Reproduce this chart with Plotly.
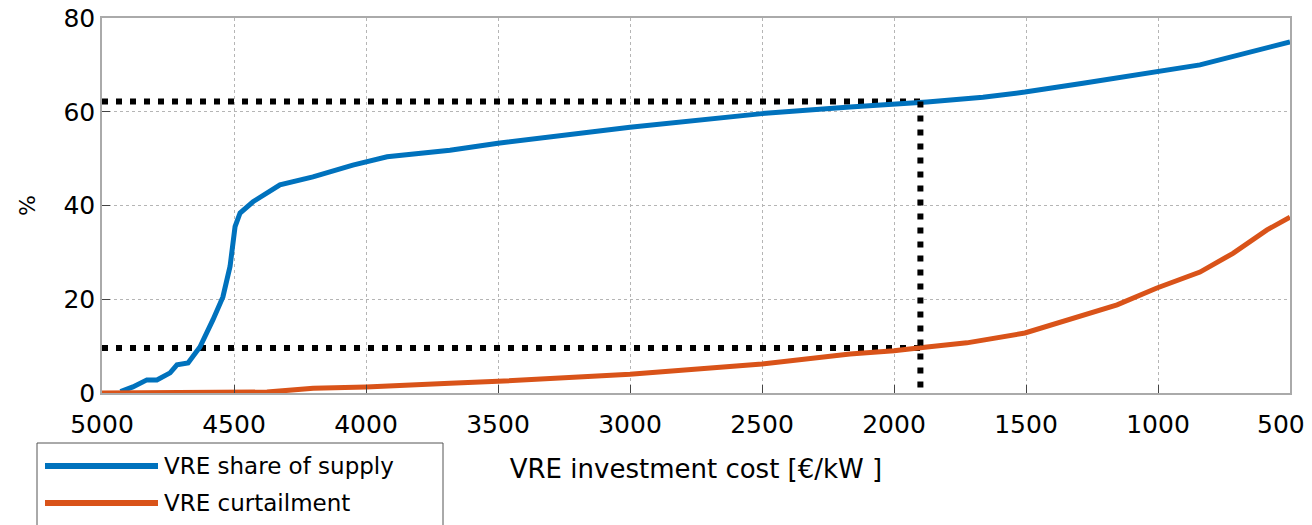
import plotly.graph_objects as go

# --- data ---
share_cost = [4930, 4883, 4830, 4792, 4742, 4716, 4674, 4629, 4580, 4542, 4515, 4496, 4477, 4428,
              4326, 4201, 4050, 3920, 3682, 3500, 3000, 2500, 2167, 2000, 1875, 1663, 1504, 1284,
              1004, 841, 500]
share_val = [0.3, 1.3, 2.8, 2.8, 4.3, 6.0, 6.4, 9.8, 15.6, 20.5, 27.0, 35.5, 38.4, 40.8,
             44.4, 46.1, 48.6, 50.4, 51.8, 53.3, 56.7, 59.6, 61.0, 61.6, 62.1, 63.1, 64.2, 66.1,
             68.5, 70.0, 74.9]

curt_cost = [5000, 4600, 4375, 4200, 4000, 3682, 3500, 3000, 2500, 2167, 2000, 1875, 1724, 1504,
             1284, 1155, 1004, 841, 716, 587, 500]
curt_val = [0.0, 0.0, 0.2, 1.0, 1.3, 2.1, 2.5, 4.0, 6.2, 8.3, 9.0, 9.8, 10.7, 12.8,
            16.6, 18.8, 22.4, 25.8, 29.8, 34.8, 37.5]

marker_cost = 1900
upper_level = 62.2
lower_level = 9.6

x_ticks = [5000, 4500, 4000, 3500, 3000, 2500, 2000, 1500, 1000, 500]
y_ticks = [0, 20, 40, 60, 80]

series_names = ["VRE share of supply", "VRE curtailment"]
colors = ["#0072BD", "#D95319"]

FONT = "DejaVu Sans, sans-serif"

fig = go.Figure()

# dotted guide lines
guide = dict(color="black", width=6, dash="6px,8px")
fig.add_trace(go.Scatter(x=[5000, marker_cost], y=[upper_level, upper_level], mode="lines",
                         line=guide, showlegend=False, hoverinfo="skip"))
fig.add_trace(go.Scatter(x=[5000, marker_cost], y=[lower_level, lower_level], mode="lines",
                         line=guide, showlegend=False, hoverinfo="skip"))

fig.add_trace(go.Scatter(x=share_cost, y=share_val, mode="lines", name=series_names[0],
                         line=dict(color=colors[0], width=5), showlegend=False))
fig.add_trace(go.Scatter(x=curt_cost, y=curt_val, mode="lines", name=series_names[1],
                         line=dict(color=colors[1], width=5), showlegend=False))

fig.add_trace(go.Scatter(x=[marker_cost, marker_cost], y=[upper_level, 0], mode="lines",
                         line=guide, showlegend=False, hoverinfo="skip"))

# manual legend (box extending below the visible page)
fig.add_shape(type="rect", xref="paper", yref="paper",
              x0=(37 - 102) / 1188, x1=(443 - 102) / 1188,
              y0=(393 - 560) / 375, y1=(393 - 443) / 375,
              line=dict(color="#555555", width=1), fillcolor="white", layer="above")
for name, col, py in zip(series_names, colors, [466, 503]):
    yp = (393 - py) / 375
    fig.add_shape(type="line", xref="paper", yref="paper",
                  x0=(45 - 102) / 1188, x1=(158 - 102) / 1188, y0=yp, y1=yp,
                  line=dict(color=col, width=6), layer="above")
    fig.add_annotation(xref="paper", yref="paper", x=(162 - 102) / 1188, y=yp,
                       text=name, showarrow=False, xanchor="left", yanchor="middle",
                       font=dict(family=FONT, size=23, color="black"))

axis_common = dict(showgrid=True, gridcolor="#b5b5b5", griddash="dot", gridwidth=1,
                   showline=True, linecolor="#aaaaaa", linewidth=1.5, mirror=True,
                   ticks="inside", ticklen=8, tickcolor="#444444", zeroline=False,
                   automargin=False, ticklabeloverflow="allow",
                   tickfont=dict(family=FONT, size=25, color="black"))

# last x tick label is shifted left so that it stays inside the page
x_ticktext = [str(v) for v in x_ticks[:-1]] + [""]
fig.add_annotation(xref="paper", yref="paper", x=(1307 - 102) / 1188, y=(393 - 424) / 375,
                   text=str(x_ticks[-1]), showarrow=False, xanchor="right", yanchor="middle",
                   font=dict(family=FONT, size=25, color="black"))

fig.update_layout(
    width=1312, height=525,
    margin=dict(l=102, r=22, t=18, b=132),
    paper_bgcolor="white", plot_bgcolor="white",
    xaxis=dict(range=[5000, 500], tickvals=x_ticks, ticktext=x_ticktext,
               ticklabelstandoff=8,
               title=dict(text="VRE investment cost [€/kW ]", standoff=22,
                          font=dict(family=FONT, size=26, color="black")),
               **axis_common),
    yaxis=dict(range=[0, 80], tickvals=y_ticks, ticktext=[str(v) for v in y_ticks],
               title=dict(text="%", standoff=22, font=dict(family=FONT, size=22, color="black")),
               **axis_common),
)

fig.write_html("out.html")
